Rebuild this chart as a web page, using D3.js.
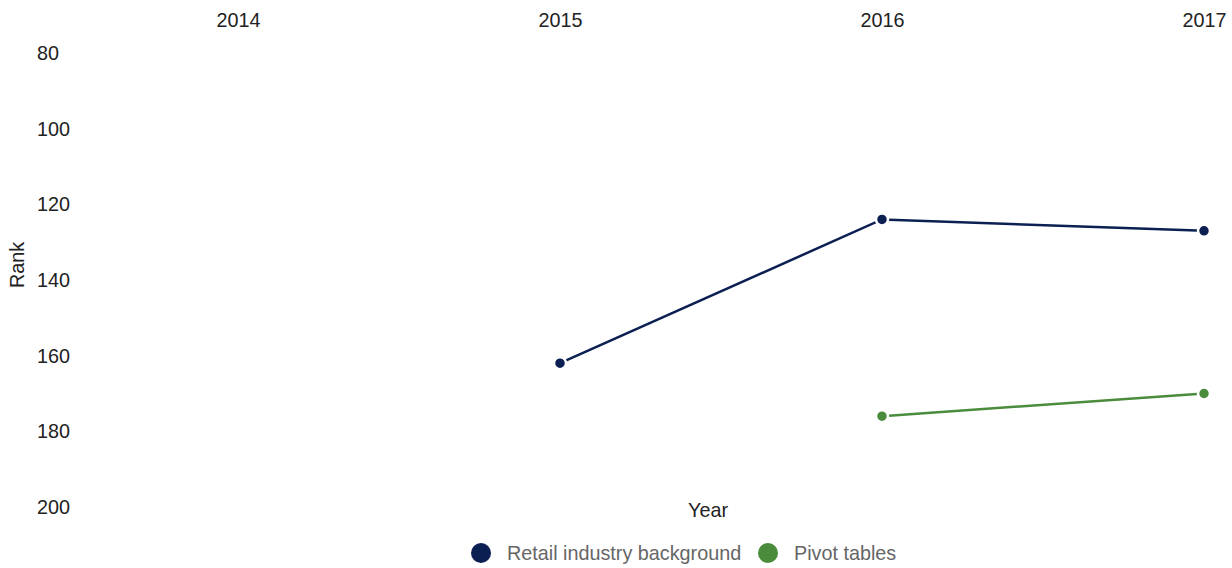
<!DOCTYPE html>
<html><head><meta charset="utf-8">
<script src="https://cdn.jsdelivr.net/npm/d3@7"></script>
<style>body{margin:0;background:#fff;}svg{display:block;font-family:"Liberation Sans",Arial,sans-serif;}</style>
</head><body>
<svg id="c" width="1232" height="568"></svg>
<script>
const years = [2014, 2015, 2016, 2017];
const yTicks = [80, 100, 120, 140, 160, 180, 200];
const seriesNames = ["Retail industry background", "Pivot tables"];
const seriesColors = ["#0b1f52", "#4a8c3c"];
const retailValues = [null, 162, 124, 127];
const pivotValues = [null, null, 176, 170];
const allValues = [retailValues, pivotValues];

const FS = 19.8;
const svg = d3.select("#c");
const x = d3.scalePoint().domain(years).range([238, 1204]);
const y = d3.scaleLinear().domain([80, 200]).range([53, 507]);

// top x axis
const xAxis = d3.axisTop(x).tickSize(0).tickPadding(0);
const gx = svg.append("g").attr("transform", "translate(0,27)").call(xAxis);
gx.select(".domain").remove();
gx.selectAll("text").attr("font-size", FS).attr("fill", "#222").attr("font-family", "Liberation Sans, Arial, sans-serif");

// y axis (left aligned labels)
const yAxis = d3.axisLeft(y).tickValues(yTicks).tickSize(0).tickPadding(0);
const gy = svg.append("g").attr("transform", "translate(37,0)").call(yAxis);
gy.select(".domain").remove();
gy.selectAll("text").attr("text-anchor", "start").attr("font-size", FS).attr("fill", "#222")
  .attr("font-family", "Liberation Sans, Arial, sans-serif");

// axis titles
svg.append("text").attr("x", 708).attr("y", 517).attr("text-anchor", "middle")
  .attr("font-size", FS).attr("fill", "#222").text("Year");
svg.append("text").attr("transform", "translate(24,265) rotate(-90)").attr("text-anchor", "middle")
  .attr("font-size", FS).attr("fill", "#222").text("Rank");

// lines & points
const line = d3.line().defined(d => d.v != null).x(d => x(d.year)).y(d => y(d.v));
allValues.forEach((vals, i) => {
  const data = years.map((yr, j) => ({year: yr, v: vals[j]}));
  svg.append("path").datum(data).attr("d", line).attr("fill", "none")
    .attr("stroke", seriesColors[i]).attr("stroke-width", 2.5);
  svg.selectAll(null).data(data.filter(d => d.v != null)).enter().append("circle")
    .attr("cx", d => x(d.year)).attr("cy", d => y(d.v)).attr("r", 6)
    .attr("fill", seriesColors[i]).attr("stroke", "#fff").attr("stroke-width", 2.5);
});

// legend
const legendX = [481, 768];
seriesNames.forEach((n, i) => {
  svg.append("circle").attr("cx", legendX[i]).attr("cy", 553).attr("r", 10).attr("fill", seriesColors[i]);
  svg.append("text").attr("x", legendX[i] + 26).attr("y", 560).attr("font-size", FS)
    .attr("fill", "#666").text(n);
});
</script>
</body></html>
